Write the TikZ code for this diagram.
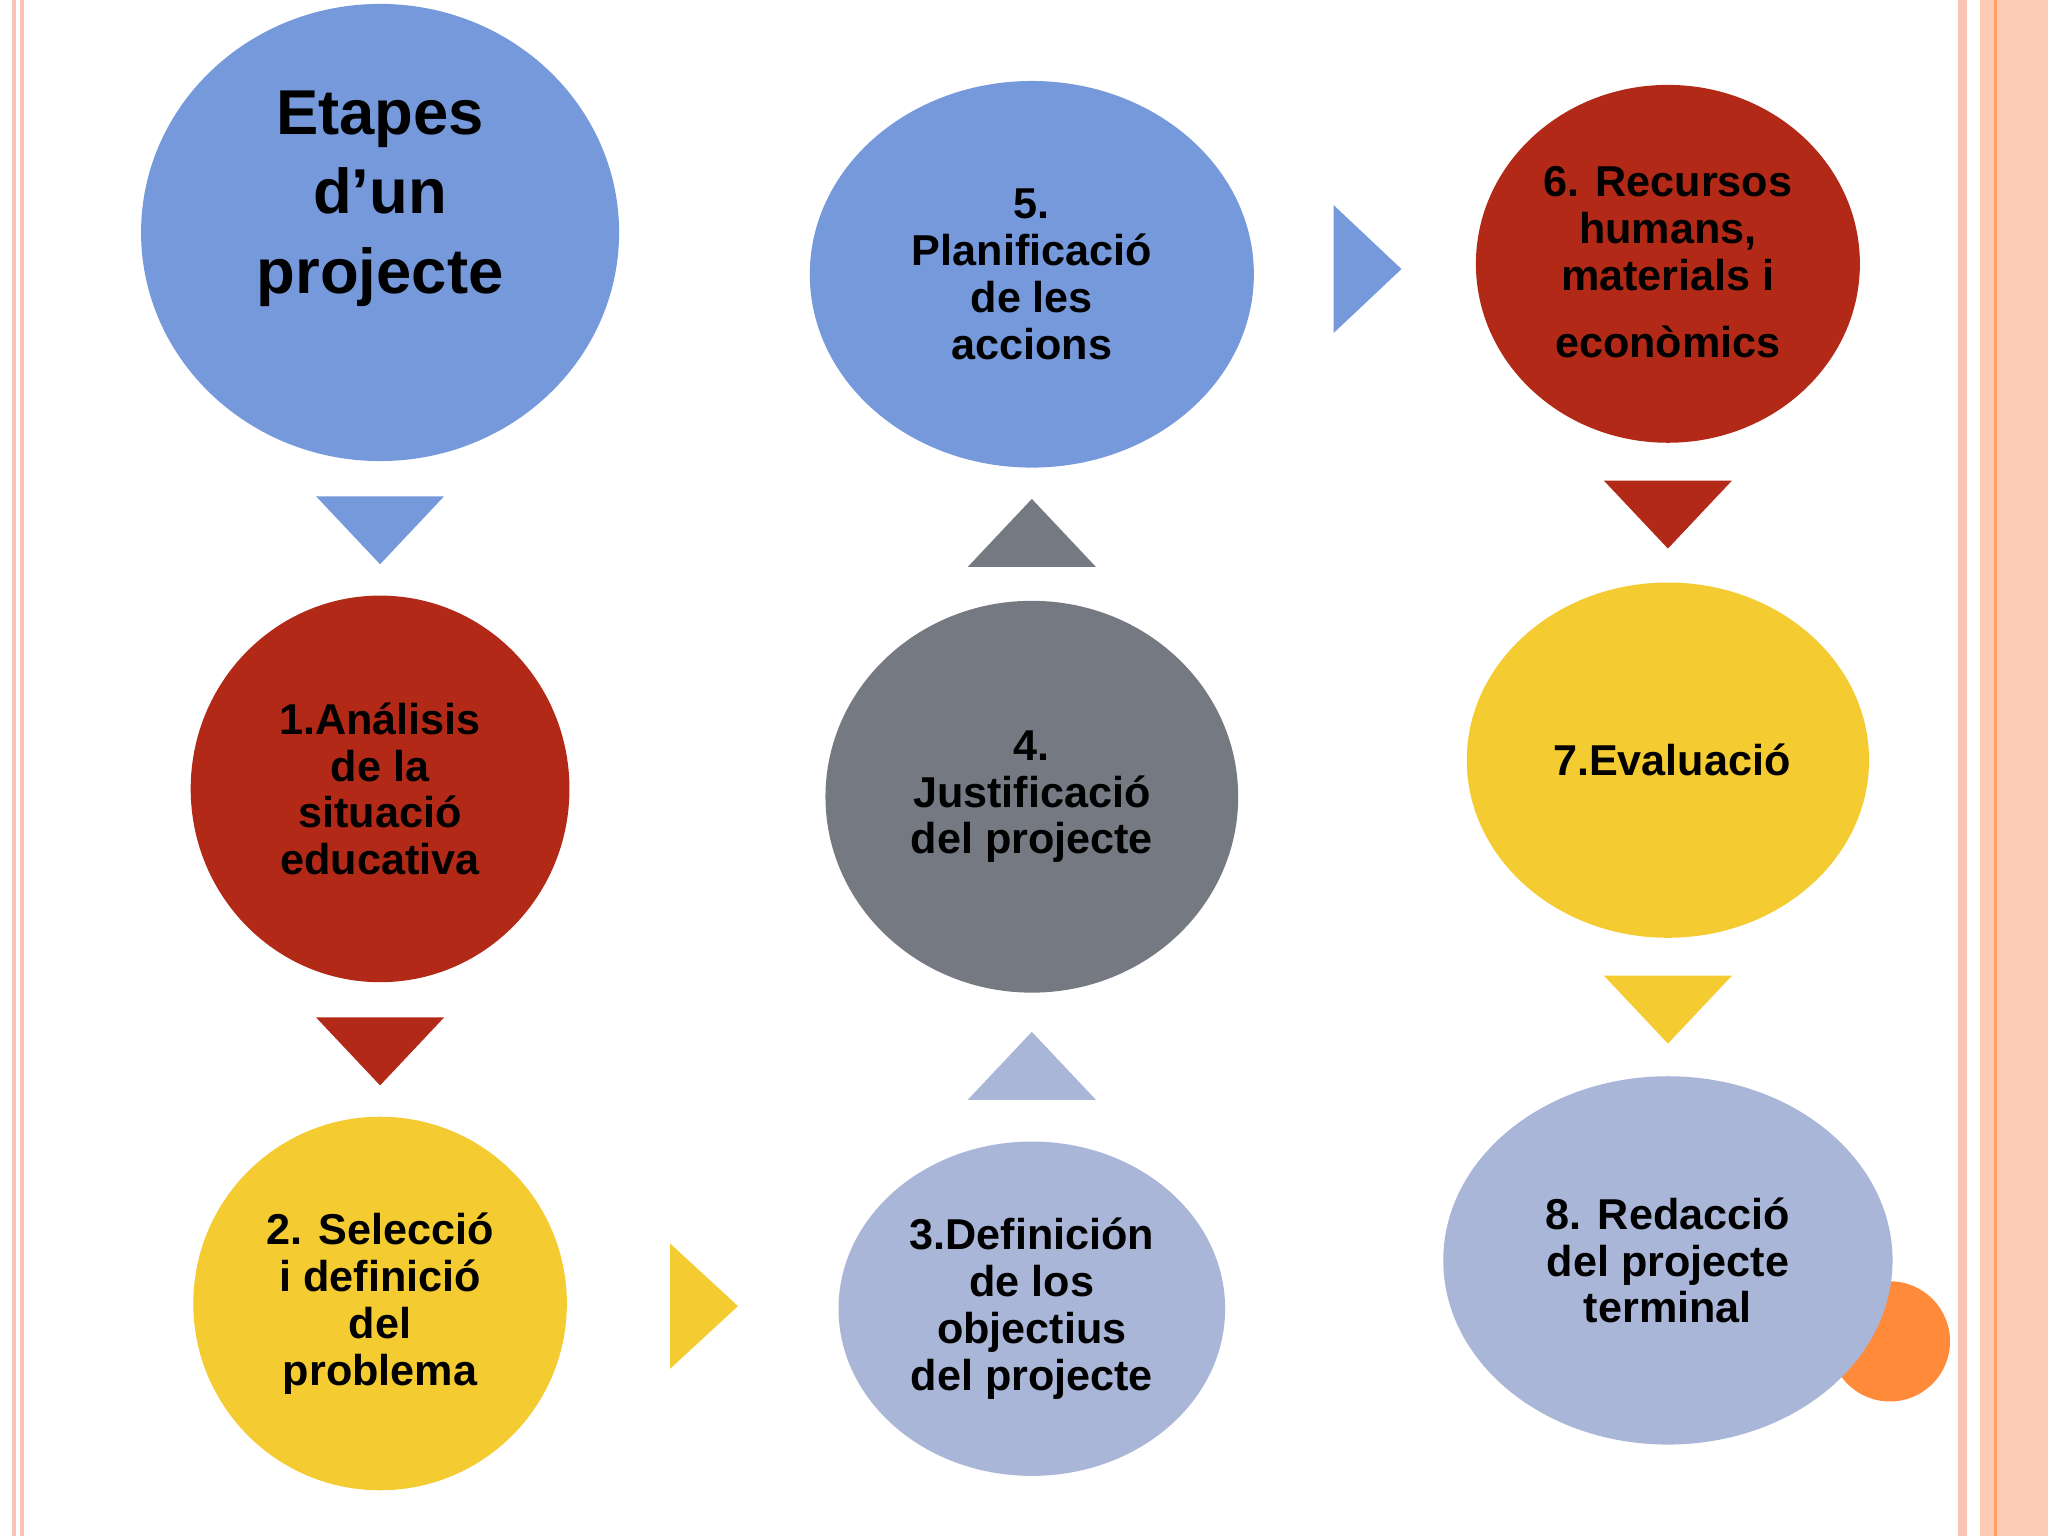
\documentclass[tikz,border=0pt]{standalone}
\usepackage{fontspec}
\setmainfont{Liberation Sans}
\definecolor{cblue}{HTML}{7599DB}
\definecolor{cred}{HTML}{B22A17}
\definecolor{cyel}{HTML}{F4CB30}
\definecolor{clb}{HTML}{AAB6D8}
\definecolor{cgray}{HTML}{757982}
\definecolor{cpink}{HTML}{F9C3B6}
\definecolor{cpeach}{HTML}{FBCBB3}
\definecolor{corange}{HTML}{FF8A3A}
\begin{document}
\begin{tikzpicture}[x=0.01cm,y=-0.01cm,
  el/.style={ellipse,inner sep=0pt},
  txt/.style={align=center,font=\bfseries\fontsize{9.4}{10.2}\selectfont,text=black}]
\useasboundingbox (0,0) rectangle (1568,1176);
\fill[white] (0,0) rectangle (1568,1176);
% borders
\fill[cpink] (9,0) rectangle (12,1176);
\fill[cpink] (15,0) rectangle (18,1176);
\fill[cpink] (1499,0) rectangle (1506,1176);
\fill[cpeach] (1516,0) rectangle (1568,1176);
\fill[corange!80] (1527,0) rectangle (1529,1176);
% orange circle
\fill[corange] (1447,1027) circle (46);
% ellipses
\fill[cblue] (291,178) ellipse (183 and 175);
\fill[cred] (291,604) ellipse (145 and 148);
\fill[cyel] (291,998) ellipse (143 and 143);
\fill[clb] (790,1002) ellipse (148 and 128);
\fill[cgray] (790,610) ellipse (158 and 150);
\fill[cblue] (790,210) ellipse (170 and 148);
\fill[cred] (1277,202) ellipse (147 and 137);
\fill[cyel] (1277,582) ellipse (154 and 136);
\fill[clb] (1277,965) ellipse (172 and 141);
% texts
\node[align=center,font=\bfseries\fontsize{13.8}{17.3}\selectfont] (t0) at (291,152) {Etapes\\d’un\\projecte};
\node[txt] (t1) at (291,604) {1.Análisis\\de la\\situació\\educativa};
\node[txt] (t2) at (291,998) {2. Selecció\\i definició\\del\\problema};
\node[txt] (t3) at (790,1002) {3.Definición\\de los\\objectius\\del projecte};
\node[txt] (t4) at (790,610) {4.\\Justificació\\del projecte};
\node[txt] (t5) at (790,210) {5.\\Planificació\\de les\\accions};
\node[txt] (t6) at (1277,175) {6. Recursos\\humans,\\materials i};
\node[txt] (t6b) at (1277,262) {econòmics};
\node[txt] (t7) at (1280,582) {7.Evaluació};
\node[txt] (t8) at (1277,965) {8. Redacció\\del projecte\\terminal};
% triangles
\fill[cblue] (242,380) -- (340,380) -- (291,432) -- cycle;
\fill[cred] (242,779) -- (340,779) -- (291,831) -- cycle;
\fill[cyel] (513,952) -- (565,1000) -- (513,1048) -- cycle;
\fill[clb] (741,842) -- (839,842) -- (790,790) -- cycle;
\fill[cgray] (741,434) -- (839,434) -- (790,382) -- cycle;
\fill[cblue] (1021,157) -- (1073,206) -- (1021,255) -- cycle;
\fill[cred] (1228,368) -- (1326,368) -- (1277,420) -- cycle;
\fill[cyel] (1228,747) -- (1326,747) -- (1277,799) -- cycle;
\end{tikzpicture}
\end{document}
